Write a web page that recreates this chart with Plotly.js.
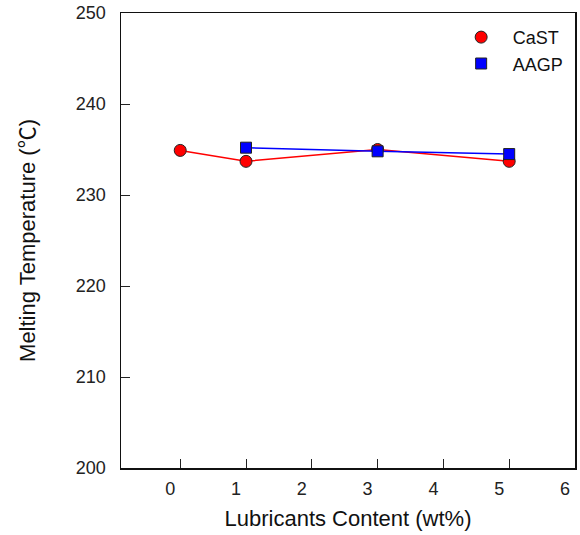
<!DOCTYPE html>
<html>
<head>
<meta charset="utf-8">
<script src="https://cdn.plot.ly/plotly-3.0.1.min.js"></script>
<style>html,body{margin:0;padding:0;background:#fff}#chart{width:580px;height:535px}</style>
</head>
<body>
<div id="chart"></div>
<script>
const castX = [0, 1, 3, 5];
const castY = [234.9, 233.7, 235.0, 233.7];
const aagpX = [1, 3, 5];
const aagpY = [235.2, 234.8, 234.5];
const xTicks = [0, 1, 2, 3, 4, 5, 6];
const yTicks = [200, 210, 220, 230, 240, 250];

const font = "Liberation Sans, Arial, 'Noto Sans CJK KR', sans-serif";

const traces = [
  {x: castX, y: castY, mode: 'lines', line: {color: '#ff0000', width: 1.5}, showlegend: false, hoverinfo: 'skip'},
  {x: castX, y: castY, mode: 'markers', name: 'CaST',
   marker: {symbol: 'circle', size: 12, color: '#ff0000', line: {color: '#222', width: 1}}},
  {x: aagpX, y: aagpY, mode: 'lines', line: {color: '#0000ff', width: 1.5}, showlegend: false, hoverinfo: 'skip'},
  {x: aagpX, y: aagpY, mode: 'markers', name: 'AAGP',
   marker: {symbol: 'square', size: 11, color: '#0000ff', line: {color: '#222', width: 1}}}
];

const layout = {
  width: 580, height: 535,
  margin: {l: 121, r: 5, t: 13, b: 67},
  paper_bgcolor: '#fff', plot_bgcolor: '#fff',
  font: {family: font, size: 18, color: '#222'},
  showlegend: true,
  legend: {x: 0.986, xanchor: 'right', y: 0.987, yanchor: 'top', bgcolor: 'rgba(0,0,0,0)',
           font: {size: 18, color: '#111'}, itemwidth: 53, tracegroupgap: 0},
  xaxis: {
    range: [-0.9, 6], tickvals: xTicks, ticktext: xTicks.map(String),
    ticks: 'inside', ticklen: 9, tickcolor: '#222', tickwidth: 1,
    showgrid: false, zeroline: false, showline: true, linecolor: '#111', linewidth: 1.5, mirror: true,
    ticklabelshift: -10, ticklabelstandoff: 4,
    tickfont: {size: 18, color: '#222'},
    title: {text: 'Lubricants Content (wt%)', font: {size: 22, color: '#111'}, standoff: 12}
  },
  yaxis: {
    range: [200, 250], tickvals: yTicks, ticktext: yTicks.map(String),
    ticks: 'inside', ticklen: 9, tickcolor: '#222', tickwidth: 1,
    showgrid: false, zeroline: false, showline: true, linecolor: '#111', linewidth: 1.5, mirror: true,
    ticklabelstandoff: 10,
    tickfont: {size: 18, color: '#222'},
    title: {text: 'Melting Temperature (℃)', font: {size: 22, color: '#111'}, standoff: 34}
  }
};

Plotly.newPlot('chart', traces, layout, {displayModeBar: false, staticPlot: true});
</script>
</body>
</html>
